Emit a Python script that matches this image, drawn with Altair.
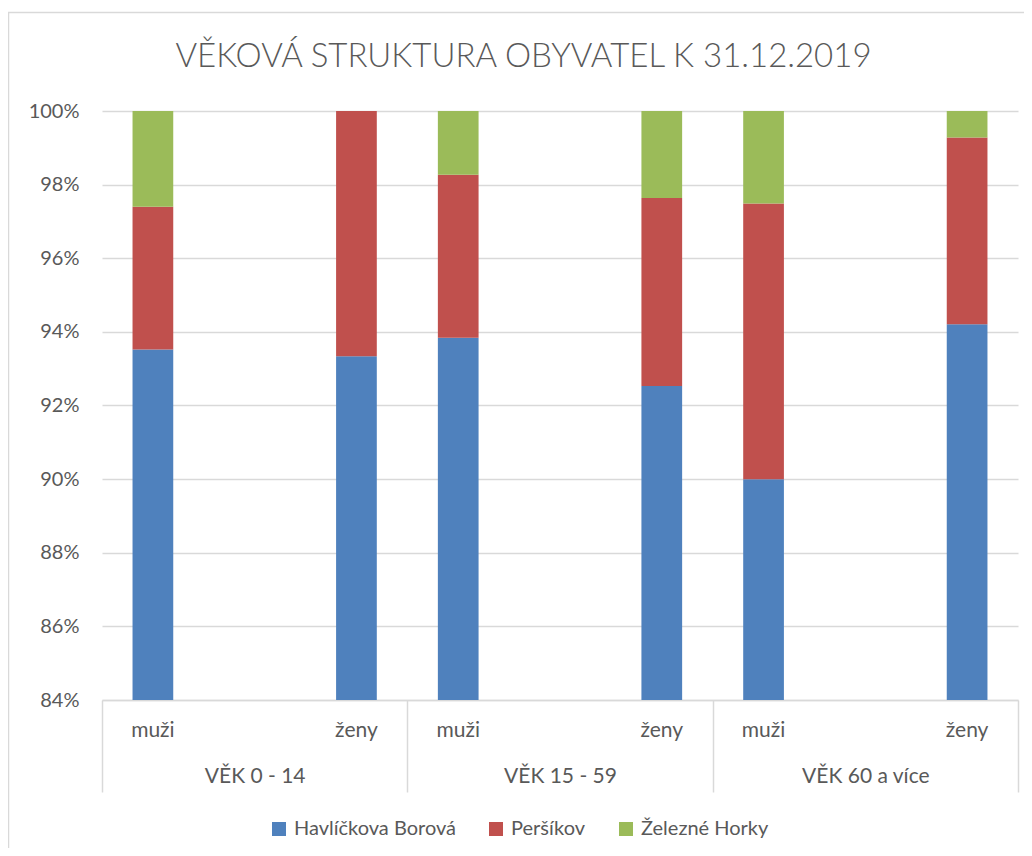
import altair as alt
import pandas as pd

title_text = "VĚKOVÁ STRUKTURA OBYVATEL K 31.12.2019"
groups = ["VĚK 0 - 14", "VĚK 15 - 59", "VĚK 60 a více"]
sexes = ["muži", "ženy"]
series = ["Havlíčkova Borová", "Peršíkov", "Železné Horky"]
colors = ["#4F81BD", "#C0504D", "#9BBB59"]

# share in % for each bar: 0-14 muži, 0-14 ženy, 15-59 muži, 15-59 ženy, 60+ muži, 60+ ženy
havlickova = [93.52, 93.34, 93.84, 92.53, 90.00, 94.21]
persikov = [3.88, 6.66, 4.43, 5.11, 7.49, 5.07]
zelezne = [2.60, 0.00, 1.73, 2.36, 2.51, 0.72]

y_ticks = [0.84, 0.86, 0.88, 0.90, 0.92, 0.94, 0.96, 0.98, 1.00]

FONT = "Lato"
TXT = "#595959"
LINE = "#d9d9d9"

# category slots: muži, empty slot, ženy within each age group
slot_domain = []
for g in groups:
    slot_domain += [f"{g}|{sexes[0]}", f"{g}|", f"{g}|{sexes[1]}"]

rows = []
lab_rows = []
i = 0
for g in groups:
    for s in sexes:
        slot = f"{g}|{s}"
        lab_rows.append({"slot": slot, "sex": s})
        for k, (name, vals) in enumerate(zip(series, [havlickova, persikov, zelezne])):
            rows.append({"slot": slot, "series": name, "order": k, "share": vals[i]})
        i += 1

df = pd.DataFrame(rows)
df_lab = pd.DataFrame(lab_rows)
df_grp = pd.DataFrame({"group": groups})

x_slot = alt.X("slot:N", scale=alt.Scale(domain=slot_domain, paddingInner=0.6, paddingOuter=0.3), axis=None)

bars = alt.Chart(df).mark_bar(clip=True).encode(
    x=x_slot,
    y=alt.Y(
        "share:Q",
        stack="normalize",
        scale=alt.Scale(domain=[0.84, 1.0], nice=False),
        axis=alt.Axis(
            values=y_ticks, format=".0%", title=None, domain=False, ticks=False,
            grid=True, gridColor=LINE, gridWidth=1.5,
            labelColor=TXT, labelFont=FONT, labelFontSize=20, labelPadding=23,
        ),
    ),
    color=alt.Color(
        "series:N",
        scale=alt.Scale(domain=series, range=colors),
        legend=alt.Legend(
            title=None, orient="none", legendX=167, legendY=708, direction="horizontal",
            symbolType="square", symbolSize=196, symbolStrokeWidth=0, symbolOpacity=1,
            labelFont=FONT, labelFontSize=20, labelColor=TXT, labelOffset=5, labelLimit=0,
            columnPadding=30, padding=0,
        ),
    ),
    order=alt.Order("order:Q", sort="ascending"),
)

sex_labels = alt.Chart(df_lab).mark_text(
    font=FONT, fontSize=21, color=TXT, baseline="middle", align="center"
).encode(
    x=x_slot,
    y=alt.value(620),
    text="sex:N",
)

group_axis = alt.Chart(df_grp).mark_text(opacity=0).encode(
    x=alt.X(
        "group:N",
        scale=alt.Scale(domain=groups, paddingInner=0, paddingOuter=0),
        axis=alt.Axis(
            orient="bottom", title=None, tickBand="extent", tickSize=92, tickColor=LINE,
            tickWidth=1.5, domainColor=LINE, domainWidth=1.5, labelAngle=0,
            labelPadding=-27, labelFont=FONT, labelFontSize=21, labelColor=TXT,
        ),
    ),
    text=alt.value(""),
)

title = alt.Chart(pd.DataFrame({"t": [title_text]})).mark_text(
    font=FONT, fontSize=33, fontWeight=300, color=TXT, align="center", baseline="alphabetic"
).encode(
    text="t:N",
    x=alt.value(421.5),
    y=alt.value(-44),
)

border = alt.Chart(pd.DataFrame({"b": [0]})).mark_rect(
    fill=None, stroke=LINE, strokeWidth=1.5, clip=False
).encode(
    x=alt.value(-93.5), x2=alt.value(940), y=alt.value(-98.5), y2=alt.value(770),
)

chart = alt.layer(
    border,
    alt.layer(bars, sex_labels),
    group_axis,
    title,
).resolve_scale(
    x="independent"
).properties(
    width=916, height=589,
    autosize=alt.AutoSizeParams(type="none"),
    padding={"left": 94, "top": 103, "right": 6, "bottom": 148},
).configure_view(stroke=None)

chart.save("out.html", embed_options={"renderer": "svg", "actions": False})
